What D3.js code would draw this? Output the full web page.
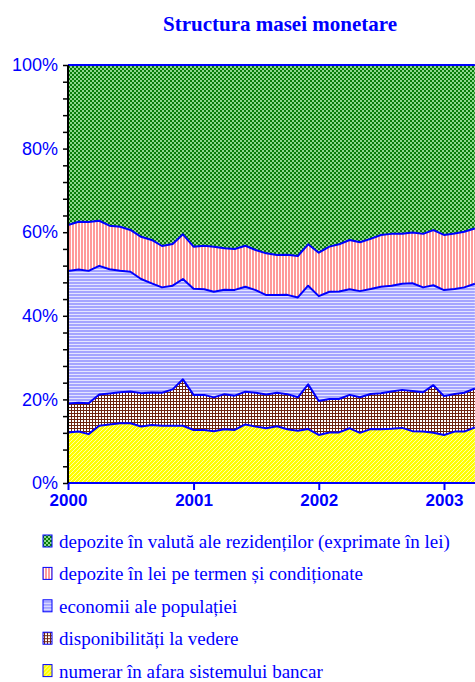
<!DOCTYPE html>
<html lang="ro">
<head>
    <meta charset="utf-8">
    <script src="https://cdn.jsdelivr.net/npm/d3@7"></script>
    <style>
        body { margin: 0; background: #fff; }
    </style>
</head>
<body>
<div id="my_dataviz"></div>

<script>
    // luni: ian 2000 - apr 2003, procente din masa monetara
    var numerar = [12.1,12.3,11.7,13.7,14.0,14.3,14.3,13.5,13.9,13.7,13.7,13.7,12.7,12.7,12.4,12.9,12.7,14.0,13.5,13.1,13.6,12.9,12.5,12.9,11.5,12.1,12.1,13.1,12.0,12.9,12.9,13.0,13.2,12.4,12.3,12.0,11.5,12.3,12.3,13.3];
    var disponibilitati = [6.9,6.9,7.4,7.5,7.4,7.4,7.6,8.0,7.8,7.9,8.7,11.1,8.4,8.4,8.1,8.4,8.2,7.8,8.1,8.1,8.0,8.4,8.0,10.7,8.1,8.0,8.0,8.0,8.5,8.4,8.6,8.9,9.1,9.6,9.4,11.4,9.3,9.0,9.3,9.3];
    var economii = [31.7,31.9,31.7,30.8,29.7,29.1,28.7,27.3,26.1,25.2,24.8,24.0,25.4,25.3,25.3,25.0,25.3,25.1,24.6,23.8,23.4,23.8,23.9,23.6,25.1,25.7,25.7,25.3,25.4,25.1,25.5,25.3,25.4,25.8,25.1,23.9,25.4,25.1,25.2,25.1];
    var depoziteLei = [11.0,11.4,11.7,10.8,10.4,10.5,10.0,10.1,10.4,9.9,10.0,10.7,10.1,10.4,10.8,10.0,9.8,9.8,9.6,10.0,9.6,9.6,9.9,9.9,10.4,10.8,11.3,11.8,11.7,12.0,12.4,12.4,12.0,12.1,12.8,13.2,13.2,13.3,13.3,13.2];
    var depoziteValuta = [38.3,37.5,37.6,37.3,38.4,38.7,39.5,41.1,41.9,43.3,42.8,40.5,43.5,43.3,43.5,43.9,44.0,43.2,44.3,45.1,45.5,45.5,45.7,42.9,44.9,43.5,42.9,41.9,42.4,41.6,40.7,40.4,40.4,40.1,40.4,39.5,40.7,40.3,39.9,39.1];

    var yearLabels = ["2000", "2001", "2002", "2003"];
    var yTicks = [0, 0.2, 0.4, 0.6, 0.8, 1];

    var series = [
        {key: "numerar", label: "numerar în afara sistemului bancar", values: numerar, pat: "pYellow"},
        {key: "disp", label: "disponibilități la vedere", values: disponibilitati, pat: "pBrown"},
        {key: "econ", label: "economii ale populației", values: economii, pat: "pBlue"},
        {key: "lei", label: "depozite în lei pe termen și condiționate", values: depoziteLei, pat: "pRed"},
        {key: "valuta", label: "depozite în valută ale rezidenților (exprimate în lei)", values: depoziteValuta, pat: "pGreen"}
    ];

    function drawChart() {
        var width = 475, height = 682;
        var plotLeft = 68, plotTop = 65, plotBottom = 483;

        var months = d3.timeMonth.range(new Date(2000, 0, 1), new Date(2000, numerar.length, 1));
        var rows = months.map(function (m, i) {
            var r = {date: m};
            series.forEach(function (s) { r[s.key] = s.values[i]; });
            return r;
        });

        var svg = d3.select("#my_dataviz")
            .append("svg")
            .attr("width", width)
            .attr("height", height);

        // hasuri
        var defs = svg.append("defs");
        function pattern(id, w, h) {
            return defs.append("pattern").attr("id", id)
                .attr("patternUnits", "userSpaceOnUse")
                .attr("width", w).attr("height", h);
        }
        var g1 = pattern("pGreen", 4, 4);
        g1.append("rect").attr("width", 4).attr("height", 4).attr("fill", "#0a7d0a");
        g1.append("rect").attr("width", 2).attr("height", 2).attr("fill", "#8fd88f");
        g1.append("rect").attr("x", 2).attr("y", 2).attr("width", 2).attr("height", 2).attr("fill", "#8fd88f");

        var g2 = pattern("pRed", 3, 3);
        g2.append("rect").attr("width", 3).attr("height", 3).attr("fill", "#ff9a9a");
        g2.append("rect").attr("x", 2).attr("width", 1).attr("height", 3).attr("fill", "#ffffff");

        var g3 = pattern("pBlue", 3, 3);
        g3.append("rect").attr("width", 3).attr("height", 3).attr("fill", "#a4a4ff");
        g3.append("rect").attr("y", 2).attr("width", 3).attr("height", 1).attr("fill", "#e4e4ff");

        var g4 = pattern("pBrown", 3, 3);
        g4.append("rect").attr("width", 3).attr("height", 3).attr("fill", "#ffffff");
        g4.append("rect").attr("x", 2).attr("width", 1).attr("height", 3).attr("fill", "#6e2410");
        g4.append("rect").attr("y", 2).attr("width", 3).attr("height", 1).attr("fill", "#6e2410");

        var g5 = pattern("pYellow", 4, 4);
        g5.append("rect").attr("width", 4).attr("height", 4).attr("fill", "#ffff00");
        g5.append("path").attr("d", "M0,4 L4,0 M-1,1 L1,-1 M3,5 L5,3")
            .attr("stroke", "#ffffa8").attr("stroke-width", 1);

        defs.append("clipPath").attr("id", "plotClip")
            .append("rect").attr("x", plotLeft).attr("y", plotTop - 2)
            .attr("width", width - plotLeft).attr("height", plotBottom - plotTop + 4);

        var x = d3.scaleTime()
            .domain([new Date(2000, 0, 1), new Date(2003, 0, 1)])
            .range([plotLeft, 444]);

        var y = d3.scaleLinear()
            .domain([0, 1])
            .range([plotBottom, plotTop]);

        var stack = d3.stack()
            .keys(series.map(function (s) { return s.key; }))
            .offset(d3.stackOffsetExpand);
        var layers = stack(rows);

        var area = d3.area()
            .x(function (d) { return x(d.data.date); })
            .y0(function (d) { return y(d[0]); })
            .y1(function (d) { return y(d[1]); });

        var topLine = d3.line()
            .x(function (d) { return x(d.data.date); })
            .y(function (d) { return y(d[1]); });

        var plot = svg.append("g").attr("clip-path", "url(#plotClip)");

        plot.selectAll(".layer")
            .data(layers)
            .enter()
            .append("path")
            .attr("class", "layer")
            .attr("d", area)
            .attr("fill", function (d, i) { return "url(#" + series[i].pat + ")"; });

        plot.selectAll(".edge")
            .data(layers)
            .enter()
            .append("path")
            .attr("class", "edge")
            .attr("d", topLine)
            .attr("fill", "none")
            .attr("stroke", "#0000ff")
            .attr("stroke-width", 2)
            .attr("stroke-linejoin", "round");

        // axa x
        var xAxis = d3.axisBottom(x)
            .ticks(d3.timeYear.every(1))
            .tickSize(7)
            .tickFormat(function (d, i) { return yearLabels[i]; });
        var gx = svg.append("g")
            .attr("transform", "translate(0," + plotBottom + ")")
            .call(xAxis);
        gx.select(".domain").attr("d", "M" + plotLeft + ",0H" + width).attr("stroke", "#0000ff").attr("stroke-width", 2);
        gx.selectAll(".tick line").attr("stroke", "#0000ff").attr("stroke-width", 2);
        gx.selectAll(".tick text")
            .attr("y", 11)
            .attr("fill", "#0000ff")
            .style("font-family", "Liberation Sans, Arial, sans-serif")
            .style("font-weight", "bold")
            .style("font-size", "17px");

        // axa y
        var yAxis = d3.axisLeft(y)
            .tickValues(d3.range(0, 1.0001, 0.04))
            .tickSize(5)
            .tickFormat(function (d) {
                var k = yTicks.findIndex(function (t) { return Math.abs(t - d) < 1e-6; });
                return k >= 0 ? d3.format(".0%")(yTicks[k]) : "";
            });
        var gy = svg.append("g")
            .attr("transform", "translate(" + plotLeft + ",0)")
            .call(yAxis);
        gy.select(".domain").attr("d", "M0," + plotTop + "V" + plotBottom).attr("stroke", "#000").attr("stroke-width", 2);
        gy.selectAll(".tick line").attr("stroke", "#000").attr("stroke-width", 1.5);
        gy.selectAll(".tick text")
            .attr("x", -10)
            .attr("fill", "#0000ff")
            .style("font-family", "Liberation Sans, Arial, sans-serif")
            .style("font-size", "18px");

        // titlu
        svg.append("text")
            .attr("x", 280)
            .attr("y", 31)
            .attr("text-anchor", "middle")
            .attr("fill", "#0000ff")
            .style("font-family", "Liberation Serif, Times New Roman, serif")
            .style("font-weight", "bold")
            .style("font-size", "21px")
            .text("Structura masei monetare");

        // legenda (de sus in jos)
        var legend = svg.selectAll(".legend")
            .data(series.slice().reverse())
            .enter()
            .append("g")
            .attr("class", "legend")
            .attr("transform", function (d, i) { return "translate(0," + (548 + i * 32.4) + ")"; });

        legend.append("rect")
            .attr("x", 43)
            .attr("y", -13)
            .attr("width", 9)
            .attr("height", 12)
            .attr("fill", function (d) { return "url(#" + d.pat + ")"; })
            .attr("stroke", "#0000ff")
            .attr("stroke-width", 1);

        legend.append("text")
            .attr("x", 59)
            .attr("y", 0)
            .attr("fill", "#0000ff")
            .style("font-family", "Liberation Serif, Times New Roman, serif")
            .style("font-size", "19px")
            .text(function (d) { return d.label; });
    }

    drawChart();
</script>
</body>
</html>
